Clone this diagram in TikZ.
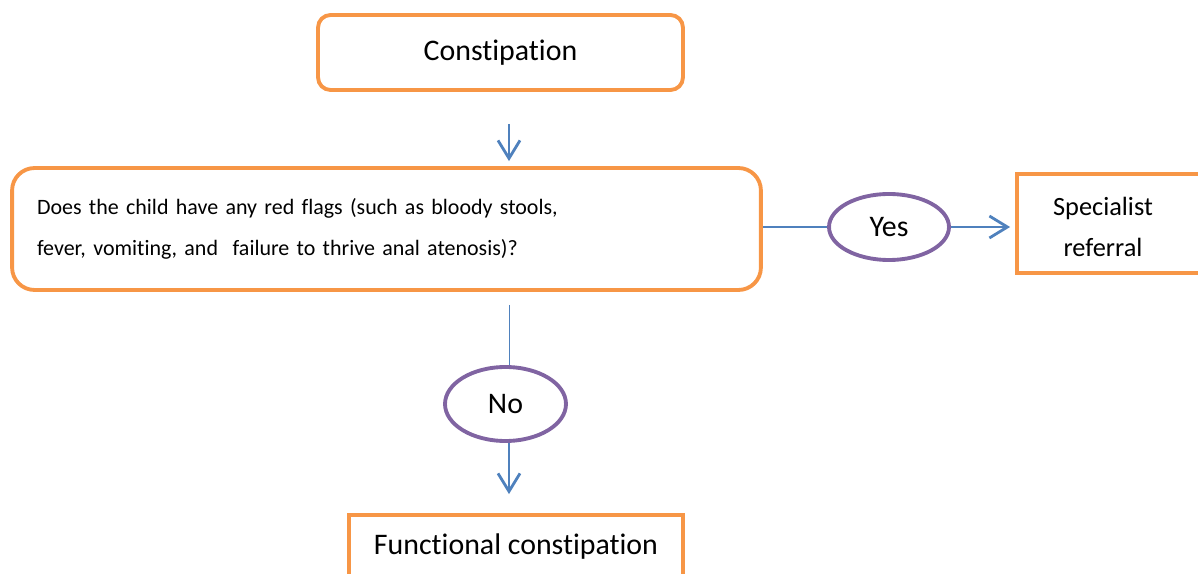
\documentclass[tikz,border=0pt]{standalone}
\usepackage{fontspec}
\setmainfont{Carlito}[Ligatures=NoCommon]
\usetikzlibrary{arrows.meta,calc,shapes.geometric}
\definecolor{orangebox}{HTML}{F79646}
\definecolor{bluearrow}{HTML}{4F81BD}
\definecolor{purplering}{HTML}{8064A2}
\tikzset{
  kasten/.style={draw=orangebox,line width=2.2pt,font=\fontsize{17}{23}\selectfont},
  rundkasten/.style={kasten,rounded corners=0.25cm},
  wahl/.style={draw=purplering,line width=2.2pt,ellipse,inner sep=0pt,font=\fontsize{17}{20}\selectfont},
  pfeil/.style={draw=bluearrow,line width=1.6pt,-{Straight Barb[length=0.36cm,width=0.44cm,line width=1.6pt]}},
  linie/.style={draw=bluearrow,line width=0.8pt}
}
\begin{document}
\begin{tikzpicture}[x=0.02cm,y=-0.02cm]
\clip (0,0) rectangle (1198,574);
\node[rundkasten,minimum width=7.3cm,minimum height=1.5cm] (constip) at (500.5,52.5) {Constipation};
\node[rundkasten,rounded corners=0.45cm,text width=13.98cm,inner xsep=0.5cm,minimum height=2.44cm,align=left,
  font=\fontsize{12.5}{23}\selectfont] (frage) at (386.5,229)
  {Does the child have any red flags (such as bloody stools,\\fever, vomiting, and\ \ failure to thrive anal atenosis)?};
\node[wahl,minimum width=2.4cm,minimum height=1.32cm] (ja) at (889,227) {Yes};
\node[wahl,minimum width=2.42cm,minimum height=1.48cm] (nein) at (505.5,404) {No};
% Kasten rechts und unten laufen aus dem Bild
\node[kasten,minimum width=4.46cm,minimum height=1.98cm] (spez) at (1128.5,223.5) {};
\node[align=center,font=\fontsize{15}{23}\selectfont] (speztext) at (1103,227) {Specialist\\referral};
\node[kasten,minimum width=6.68cm,minimum height=1.28cm] (funkt) at (516,547) {Functional constipation};
\coordinate (a1) at ($(constip.south)+(8.5,0)$);
\coordinate (a2) at ($(nein.north)+(4,0)$);
\coordinate (a3) at ($(nein.south)+(3.5,0)$);
\draw[pfeil,shorten <=0.64cm,shorten >=0.1cm] (a1) -- (a1 |- frage.north);
\draw[linie] (frage.east |- ja.west) -- (ja.west);
\draw[pfeil,shorten >=0.1cm] (ja.east) -- (spez.west |- ja.east);
\draw[linie,shorten <=0.26cm] (a2 |- frage.south) -- (a2);
\draw[pfeil,shorten >=0.38cm] (a3) -- (a3 |- funkt.north);
\end{tikzpicture}
\end{document}
